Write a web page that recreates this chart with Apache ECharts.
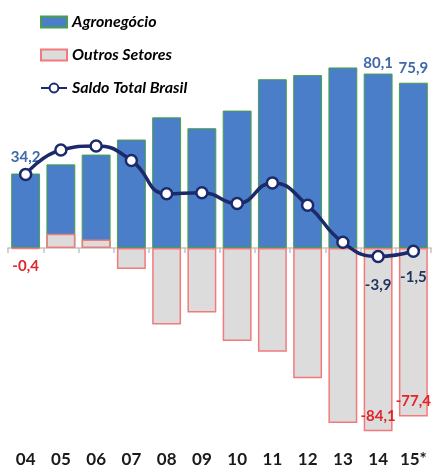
<!DOCTYPE html>
<html>
<head>
<meta charset="utf-8">
<script src="https://cdn.jsdelivr.net/npm/echarts@6/dist/echarts.min.js"></script>
<style>
  html, body { margin: 0; padding: 0; background: #ffffff; }
  #chart { width: 436px; height: 468px; }
</style>
</head>
<body>
<div id="chart"></div>
<script>
// Brazilian trade balance (US$ billion): agribusiness, other sectors and the overall balance
var years = ['04', '05', '06', '07', '08', '09', '10', '11', '12', '13', '14', '15*'];
var agronegocio = [34.2, 38.4, 42.9, 49.8, 60.0, 55.0, 63.1, 77.5, 79.4, 82.9, 80.1, 75.9];
var outrosSetores = [-0.4, 6.6, 3.9, -9.6, -35.1, -29.6, -42.7, -47.6, -59.8, -80.3, -84.1, -77.4];
var saldoTotal = [33.8, 45.0, 46.8, 40.2, 24.9, 25.4, 20.4, 29.9, 19.6, 2.6, -3.9, -1.5];

// years whose values are printed next to the marks
var agroLabelled = ['04', '14', '15*'];
var outrosLabelled = ['04', '14', '15*'];
var saldoLabelled = ['14', '15*'];

var FONT = 'Lato, "Open Sans", sans-serif';
function fmt(v) { return String(v).replace('.', ','); }

var agroData = agronegocio.map(function (v, i) {
  var d = { value: v };
  if (agroLabelled.indexOf(years[i]) >= 0) {
    d.label = { show: true, position: 'top', distance: i === 0 ? 9 : (i === 11 ? 7 : 3) };
  }
  return d;
});

var outrosData = outrosSetores.map(function (v, i) {
  var d = { value: v };
  if (outrosLabelled.indexOf(years[i]) >= 0) {
    d.label = i === 0
      ? { show: true, position: 'bottom', distance: 9 }
      : { show: true, position: 'insideBottom', distance: i === 10 ? 7 : 8 };
  }
  return d;
});

var saldoData = saldoTotal.map(function (v, i) {
  var d = { value: v };
  if (saldoLabelled.indexOf(years[i]) >= 0) {
    d.label = { show: true, position: 'bottom', distance: i === 10 ? 14 : 12 };
  }
  return d;
});

var chart = echarts.init(document.getElementById('chart'), null, { renderer: 'canvas' });

chart.setOption({
  animation: false,
  backgroundColor: '#ffffff',
  legend: {
    orient: 'vertical',
    left: 35,
    top: 7,
    itemWidth: 26,
    itemHeight: 11,
    itemGap: 13,
    textStyle: {
      fontFamily: FONT,
      fontSize: 16,
      fontWeight: 'bold',
      fontStyle: 'italic',
      color: '#000000',
      lineHeight: 20
    },
    data: [
      { name: 'Agronegócio', icon: 'rect' },
      { name: 'Outros Setores', icon: 'rect' },
      { name: 'Saldo Total Brasil' }
    ]
  },
  grid: { left: 8, right: 5, top: 52, bottom: 22, containLabel: false },
  xAxis: [
    {
      type: 'category',
      data: years,
      position: 'bottom',
      axisLine: { onZero: true, lineStyle: { color: '#c4c4c4', width: 1.5 } },
      axisTick: { show: true, length: 5, lineStyle: { color: '#c4c4c4', width: 1.5 } },
      axisLabel: { show: false }
    },
    {
      type: 'category',
      data: years,
      position: 'bottom',
      axisLine: { show: false, onZero: false },
      axisTick: { show: false },
      axisLabel: {
        show: true,
        margin: 7,
        fontFamily: FONT,
        fontSize: 17,
        fontWeight: 'bold',
        color: '#1a1a1a'
      }
    }
  ],
  yAxis: {
    type: 'value',
    min: -90,
    max: 90,
    show: false,
    splitLine: { show: false }
  },
  series: [
    {
      name: 'Agronegócio',
      type: 'bar',
      xAxisIndex: 0,
      barWidth: '82%',
      barGap: '-100%',
      data: agroData,
      itemStyle: { color: '#4a7ec8', borderColor: '#4aa04a', borderWidth: 1 },
      label: {
        show: false,
        formatter: function (p) { return fmt(p.value); },
        fontFamily: FONT,
        fontSize: 15,
        fontWeight: 'bold',
        color: '#3e68a8'
      },
      z: 2
    },
    {
      name: 'Outros Setores',
      type: 'bar',
      xAxisIndex: 0,
      barWidth: '82%',
      barGap: '-100%',
      data: outrosData,
      itemStyle: { color: '#dcdcdc', borderColor: '#f27a7c', borderWidth: 1.5 },
      label: {
        show: false,
        formatter: function (p) { return fmt(p.value); },
        fontFamily: FONT,
        fontSize: 15,
        fontWeight: 'bold',
        color: '#e0262c'
      },
      z: 3
    },
    {
      name: 'Saldo Total Brasil',
      type: 'line',
      xAxisIndex: 0,
      smooth: true,
      data: saldoData,
      symbol: 'circle',
      symbolSize: 11,
      lineStyle: { color: '#1c2a6b', width: 3.5 },
      itemStyle: { color: '#ffffff', borderColor: '#1c2a6b', borderWidth: 2.5 },
      label: {
        show: false,
        formatter: function (p) { return fmt(p.value); },
        fontFamily: FONT,
        fontSize: 15,
        fontWeight: 'bold',
        color: '#1f3560'
      },
      z: 5
    }
  ]
});
</script>
</body>
</html>
